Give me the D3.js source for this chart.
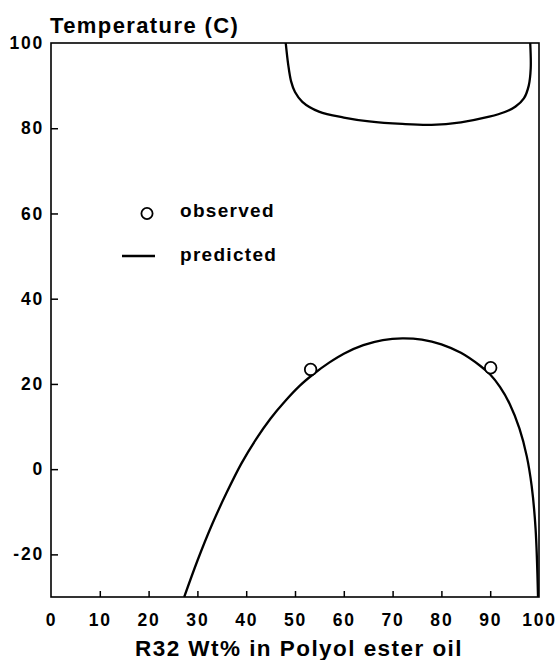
<!DOCTYPE html>
<html>
<head>
<meta charset="utf-8">
<script src="https://cdn.jsdelivr.net/npm/d3@7"></script>
<style>
  body { margin: 0; background: #fff; }
  svg { display: block; }
  text { font-family: "Liberation Sans", Arial, sans-serif; font-weight: bold; fill: #000; }
</style>
</head>
<body>
<div id="chart"></div>
<script>
// R32 / polyol ester oil miscibility
var xTicks = [0, 10, 20, 30, 40, 50, 60, 70, 80, 90, 100];
var yTicks = [-20, 0, 20, 40, 60, 80, 100];

// observed points [wt%, temperature]
var observed = [[53.2, 23.4], [90.1, 23.8]];

// lower (predicted) miscibility curve
var lowerCurve = [
  [27.3, -30], [30, -21.5], [33, -13], [36, -5.5], [39, 1.3], [42, 7],
  [45, 11.9], [48, 16], [51, 19.6], [54, 22.5], [57, 25], [60, 27.1],
  [64, 29.1], [68, 30.3], [72, 30.7], [76, 30.4], [80, 29.3], [84, 27.3],
  [88, 24.2], [90, 22.2], [92, 19.3], [94, 15.3], [96, 9.5], [97.5, 3],
  [98.5, -4], [99.3, -14], [99.8, -30]
];

// upper (predicted) miscibility curve
var upperCurve = [
  [48.1, 100], [48.6, 95], [49.2, 91], [50, 88.5], [51.5, 86.2], [54.9, 83.9],
  [60, 82.5], [65.2, 81.6], [72, 81], [78, 80.8], [84, 81.4], [89.8, 82.7],
  [93, 83.8], [95.2, 85.1], [96.9, 87], [97.9, 90], [98.3, 94], [98.2, 100]
];

var width = 560, height = 660;
var m = {left: 51, right: 539, top: 43, bottom: 597};

var svg = d3.select("#chart").append("svg")
    .attr("width", width)
    .attr("height", height);

var x = d3.scaleLinear().domain([0, 100]).range([m.left, m.right]);
var y = d3.scaleLinear().domain([-30, 100]).range([m.bottom, m.top]);

// clip for the curves
svg.append("clipPath").attr("id", "plot")
  .append("rect")
    .attr("x", m.left).attr("y", m.top)
    .attr("width", m.right - m.left).attr("height", m.bottom - m.top);

// frame
svg.append("rect")
    .attr("x", m.left).attr("y", m.top)
    .attr("width", m.right - m.left).attr("height", m.bottom - m.top)
    .attr("fill", "none")
    .attr("stroke", "#000")
    .attr("stroke-width", 1.6);

var xAxis = svg.append("g")
    .attr("transform", "translate(0," + m.bottom + ")")
    .call(d3.axisBottom(x).tickValues(xTicks).tickSize(-6).tickSizeOuter(0).tickPadding(17));

var yAxis = svg.append("g")
    .attr("transform", "translate(" + m.left + ",0)")
    .call(d3.axisLeft(y).tickValues(yTicks).tickSize(-7).tickSizeOuter(0).tickPadding(7)
      .tickFormat(d => d < 0 ? "-" + Math.abs(d) : d));

[xAxis, yAxis].forEach(g => {
  g.select(".domain").remove();
  g.selectAll(".tick line").attr("stroke", "#000").attr("stroke-width", 1.5);
  g.selectAll(".tick text")
    .style("font-size", "17.5px")
    .style("letter-spacing", "1.8px")
    .attr("fill", "#000");
});
xAxis.selectAll(".tick line").filter(d => d === 0 || d === 100).remove();
yAxis.selectAll(".tick line").filter(d => d === 100).remove();

var line = d3.line()
    .x(d => x(d[0]))
    .y(d => y(d[1]))
    .curve(d3.curveCatmullRom.alpha(0.5));

var curves = svg.append("g").attr("clip-path", "url(#plot)");

curves.selectAll("path")
    .data([lowerCurve, upperCurve])
  .enter().append("path")
    .attr("d", line)
    .attr("fill", "none")
    .attr("stroke", "#000")
    .attr("stroke-width", 2.3);

svg.selectAll(".obs")
    .data(observed)
  .enter().append("circle")
    .attr("class", "obs")
    .attr("cx", d => x(d[0]))
    .attr("cy", d => y(d[1]))
    .attr("r", 5.8)
    .attr("fill", "#fff")
    .attr("stroke", "#000")
    .attr("stroke-width", 1.8);

// legend
var legend = svg.append("g");
legend.append("circle")
    .attr("cx", 147).attr("cy", 213.5).attr("r", 5.6)
    .attr("fill", "#fff").attr("stroke", "#000").attr("stroke-width", 1.8);
legend.append("text")
    .attr("x", 180).attr("y", 217)
    .style("font-size", "19px").style("letter-spacing", "1.3px")
    .text("observed");
legend.append("line")
    .attr("x1", 122).attr("x2", 155).attr("y1", 256).attr("y2", 256)
    .attr("stroke", "#000").attr("stroke-width", 2.3);
legend.append("text")
    .attr("x", 180).attr("y", 261)
    .style("font-size", "19px").style("letter-spacing", "1.3px")
    .text("predicted");

// titles
svg.append("text")
    .attr("x", 50).attr("y", 33)
    .style("font-size", "22px").style("letter-spacing", "1.4px")
    .text("Temperature (C)");

svg.append("text")
    .attr("x", 299).attr("y", 656)
    .attr("text-anchor", "middle")
    .style("font-size", "22.5px").style("letter-spacing", "1.45px")
    .text("R32 Wt% in Polyol ester oil");
</script>
</body>
</html>
